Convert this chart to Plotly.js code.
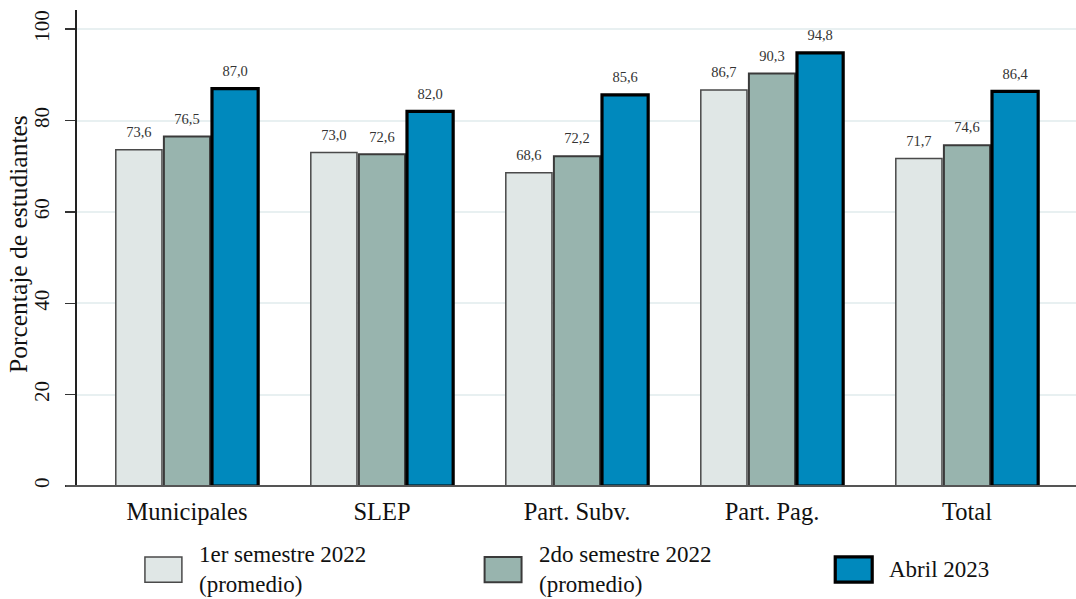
<!DOCTYPE html>
<html>
<head>
<meta charset="utf-8">
<script src="https://cdn.plot.ly/plotly-3.0.1.min.js"></script>
<style>html,body{margin:0;padding:0;background:#fff;}#chart{width:1076px;height:599px;}</style>
</head>
<body>
<div id="chart"></div>
<script>
const categories = ["Municipales", "SLEP", "Part. Subv.", "Part. Pag.", "Total"];
const seriesNames = ["1er semestre 2022<br>(promedio)", "2do semestre 2022<br>(promedio)", "Abril 2023"];
const sem1_2022 = [73.6, 73.0, 68.6, 86.7, 71.7];
const sem2_2022 = [76.5, 72.6, 72.2, 90.3, 74.6];
const abril2023 = [87.0, 82.0, 85.6, 94.8, 86.4];
const yTicks = [0, 20, 40, 60, 80, 100];
const yTitle = "Porcentaje de estudiantes";

const seriesValues = [sem1_2022, sem2_2022, abril2023];
const fills = ["#e0e7e6", "#98b4ae", "#0089bd"];
const lines = ["#4a4a4a", "#3a3a3a", "#000000"];
const lineW = [1.5, 2, 3.2];
const FONT = "Liberation Serif, Times New Roman, serif";

const traces = seriesValues.map((vals, i) => ({
  type: "bar",
  name: seriesNames[i],
  x: categories,
  y: vals,
  offsetgroup: String(i),
  marker: {color: fills[i], line: {color: lines[i], width: lineW[i]}},
  showlegend: false,
  hoverinfo: "x+y"
}));
// value labels, grouped like the bars
const labelTraces = seriesValues.map((vals, i) => ({
  type: "scatter",
  mode: "markers+text",
  x: categories,
  y: vals,
  offsetgroup: String(i),
  marker: {size: 13, color: "rgba(0,0,0,0)"},
  texttemplate: "%{y:.1f}",
  textposition: "top center",
  textfont: {family: FONT, size: 14.5, color: "#333"},
  cliponaxis: false,
  showlegend: false,
  hoverinfo: "skip"
}));

// custom legend (large boxes)
const legX = [0.068, 0.408, 0.759];
const boxW = 0.037;
const shapes = [];
const annotations = [];
seriesNames.forEach((n, i) => {
  shapes.push({type: "rect", xref: "paper", yref: "paper",
    x0: legX[i], x1: legX[i] + boxW, y0: -0.149, y1: -0.202,
    fillcolor: fills[i], line: {color: lines[i], width: lineW[i]}});
  annotations.push({xref: "paper", yref: "paper", x: legX[i] + boxW + 0.015, y: -0.176,
    xanchor: "left", yanchor: "middle", align: "left", showarrow: false, yshift: 0,
    text: n, font: {family: FONT, size: 23, color: "#111"}});
});
// y-axis title
annotations.push({xref: "paper", yref: "paper", x: 0, y: 0.5, xanchor: "center", yanchor: "middle",
  xshift: -59, yshift: 4, textangle: -90, showarrow: false, text: yTitle,
  font: {family: FONT, size: 25.5, color: "#111"}});
// x-axis line extension to the left (to tick)
shapes.push({type: "line", xref: "paper", yref: "paper", x0: -0.011, x1: 1, y0: 0, y1: 0,
  line: {color: "#555", width: 2}});

const layout = {
  width: 1076, height: 599,
  margin: {l: 77, r: 0, t: 10, b: 113},
  paper_bgcolor: "#fff", plot_bgcolor: "#fff",
  separators: ",.",
  barmode: "group",
  bargap: 0.26,
  bargroupgap: 0.04,
  scattermode: "group",
  scattergap: 0.26,
  font: {family: FONT, color: "#111"},
  xaxis: {
    type: "category", range: [-0.564, 4.559],
    showline: false, ticks: "", showgrid: false, zeroline: false,
    ticklabelstandoff: 8,
    tickfont: {family: FONT, size: 24.5, color: "#111"}
  },
  yaxis: {
    range: [0, 104.2], tickvals: yTicks, ticktext: yTicks.map(String),
    tickangle: -90, ticks: "outside", ticklen: 10, tickwidth: 1.5, tickcolor: "#333",
    ticklabelstandoff: 8,
    showline: true, linecolor: "#222", linewidth: 2,
    showgrid: true, gridcolor: "#e8f0f1", gridwidth: 2, zeroline: false,
    tickfont: {family: FONT, size: 21, color: "#111"}
  },
  shapes: shapes,
  annotations: annotations,
  showlegend: false
};

Plotly.newPlot("chart", traces.concat(labelTraces), layout, {displayModeBar: false, staticPlot: true});
</script>
</body>
</html>
